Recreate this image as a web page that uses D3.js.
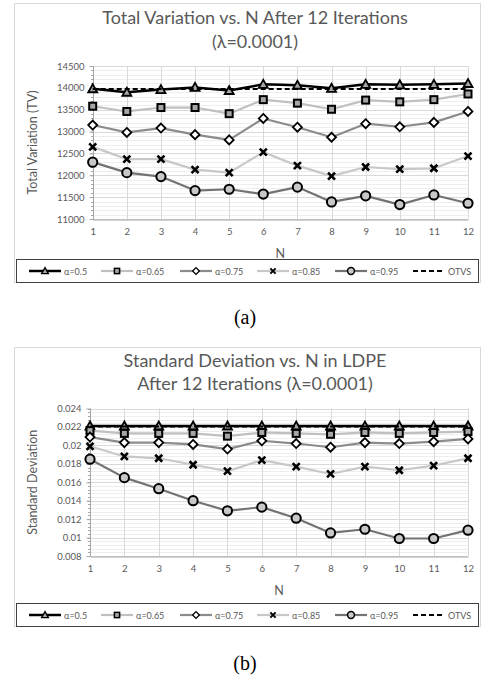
<!DOCTYPE html>
<html><head><meta charset="utf-8">
<script src="https://cdn.jsdelivr.net/npm/d3@7"></script>
<style>body{margin:0;background:#fff}svg{display:block}</style>
</head><body>
<svg id="c" width="481" height="679"></svg>
<script>
const nValues = [1,2,3,4,5,6,7,8,9,10,11,12];
const seriesNames = ["α=0.5","α=0.65","α=0.75","α=0.85","α=0.95","OTVS"];

// Panel (a): Total Variation
const tvA050 = [13980,13900,13960,14010,13940,14080,14060,13990,14080,14070,14080,14100];
const tvA065 = [13580,13460,13550,13550,13410,13730,13650,13510,13720,13680,13730,13860];
const tvA075 = [13150,12980,13080,12930,12810,13300,13100,12870,13180,13110,13210,13460];
const tvA085 = [12650,12370,12370,12130,12060,12530,12220,11980,12190,12140,12160,12440];
const tvA095 = [12300,12060,11970,11650,11680,11570,11730,11390,11530,11330,11550,11360];
const tvOTVS = [13975,13975,13975,13975,13975,13975,13975,13975,13975,13975,13975,13975];
const tvTicks = [11000,11500,12000,12500,13000,13500,14000,14500];

// Panel (b): Standard Deviation
const sdA050 = [0.0221,0.0221,0.0221,0.0221,0.0221,0.0221,0.0221,0.0221,0.0221,0.0221,0.0221,0.0221];
const sdA065 = [0.0216,0.0213,0.0213,0.0213,0.0210,0.0214,0.0213,0.0212,0.0214,0.0213,0.0214,0.0215];
const sdA075 = [0.0209,0.0203,0.0203,0.0201,0.0196,0.0205,0.0202,0.0198,0.0203,0.0202,0.0204,0.0207];
const sdA085 = [0.0199,0.0188,0.0186,0.0179,0.0172,0.0184,0.0177,0.0169,0.0177,0.0173,0.0178,0.0186];
const sdA095 = [0.0185,0.0165,0.0153,0.0140,0.0129,0.0133,0.0121,0.0105,0.0109,0.0099,0.0099,0.0108];
const sdOTVS = [0.02205,0.02205,0.02205,0.02205,0.02205,0.02205,0.02205,0.02205,0.02205,0.02205,0.02205,0.02205];
const sdTicks = [0.008,0.01,0.012,0.014,0.016,0.018,0.02,0.022,0.024];
const sdTickLabels = ["0.008","0.01","0.012","0.014","0.016","0.018","0.02","0.022","0.024"];

const FONT = "Lato, 'Open Sans', sans-serif";
const TXT = "#595959";
const svg = d3.select("#c");

const styles = [
  {color:"#000000", width:2.5, marker:"triangle", fill:"#a6a6a6"},
  {color:"#c0c0c0", width:2.2, marker:"square", fill:"#a6a6a6"},
  {color:"#8c8c8c", width:2.2, marker:"diamond", fill:"#ffffff"},
  {color:"#c8c8c8", width:2.2, marker:"x", fill:"none"},
  {color:"#737373", width:2.2, marker:"circle", fill:"#c8c8c8"},
  {color:"#000000", width:2, marker:null, dash:"5,3"}
];

function drawMarker(g, type, x, y, fill, s){
  s = s || 1;
  if(type==="triangle"){
    g.append("path").attr("d",`M${x},${y-4.5*s}L${x+4.5*s},${y+3.5*s}L${x-4.5*s},${y+3.5*s}Z`)
      .attr("fill",fill).attr("stroke","#000").attr("stroke-width",1.8*s).attr("stroke-linejoin","miter");
  } else if(type==="square"){
    g.append("rect").attr("x",x-3.5*s).attr("y",y-3.5*s).attr("width",7*s).attr("height",7*s)
      .attr("fill",fill).attr("stroke","#000").attr("stroke-width",2*s);
  } else if(type==="diamond"){
    g.append("path").attr("d",`M${x},${y-4.5*s}L${x+4.5*s},${y}L${x},${y+4.5*s}L${x-4.5*s},${y}Z`)
      .attr("fill",fill).attr("stroke","#000").attr("stroke-width",1.8*s);
  } else if(type==="x"){
    g.append("path").attr("d",`M${x-3.5*s},${y-3.5*s}L${x+3.5*s},${y+3.5*s}M${x+3.5*s},${y-3.5*s}L${x-3.5*s},${y+3.5*s}`)
      .attr("stroke","#000").attr("stroke-width",2.6*s);
  } else if(type==="circle"){
    g.append("circle").attr("cx",x).attr("cy",y).attr("r",4.6*s)
      .attr("fill",fill).attr("stroke","#000").attr("stroke-width",2*s);
  }
}

function panel(cfg){
  const g = svg.append("g");
  g.append("rect").attr("x",14.5).attr("y",cfg.frameTop+0.5).attr("width",466).attr("height",cfg.frameBottom-cfg.frameTop)
    .attr("fill","#fff").attr("stroke","#d9d9d9").attr("stroke-width",1);
  cfg.title.forEach((t,i)=>{
    g.append("text").attr("x",cfg.titleX).attr("y",cfg.titleY[i]).attr("text-anchor","middle")
      .attr("font-family",FONT).attr("font-size",cfg.titleSize).attr("fill",TXT).text(t);
  });
  const x = d3.scaleLinear().domain([1,12]).range([cfg.left,cfg.right]);
  const y = d3.scaleLinear().domain(cfg.domain).range([cfg.bottom,cfg.top]);
  const minor = d3.range(cfg.domain[0], cfg.domain[1]+cfg.minorStep/2, cfg.minorStep);
  g.append("g").selectAll("line").data(minor).join("line")
    .attr("x1",cfg.left).attr("x2",cfg.right)
    .attr("y1",d=>Math.round(y(d))+0.5).attr("y2",d=>Math.round(y(d))+0.5)
    .attr("stroke","#eeeeee").attr("stroke-width",1);
  g.append("g").selectAll("line").data(cfg.ticks).join("line")
    .attr("x1",cfg.left).attr("x2",cfg.right)
    .attr("y1",d=>Math.round(y(d))+0.5).attr("y2",d=>Math.round(y(d))+0.5)
    .attr("stroke","#d9d9d9").attr("stroke-width",1);
  g.append("g").selectAll("line").data(nValues.slice(1)).join("line")
    .attr("x1",d=>Math.round(x(d))+0.5).attr("x2",d=>Math.round(x(d))+0.5)
    .attr("y1",cfg.top).attr("y2",cfg.bottom)
    .attr("stroke","#d9d9d9").attr("stroke-width",1);
  const ya = d3.axisLeft(y).tickValues(cfg.ticks).tickFormat((d,i)=>cfg.tickLabels[i]).tickSize(4).tickPadding(5);
  const yg = g.append("g").attr("transform",`translate(${Math.round(cfg.left)+0.5},0)`).call(ya);
  yg.selectAll(".tick line").attr("stroke","#a6a6a6");
  yg.select(".domain").attr("stroke","#a6a6a6").attr("d",`M0,${cfg.top}V${cfg.bottom}`);
  yg.selectAll("text").attr("font-family",FONT).attr("font-size",9.5).attr("fill",TXT);
  yg.append("g").selectAll("line").data(minor).join("line")
    .attr("x1",-2.5).attr("x2",0).attr("y1",d=>Math.round(y(d))+0.5).attr("y2",d=>Math.round(y(d))+0.5)
    .attr("stroke","#a6a6a6");
  const xa = d3.axisBottom(x).tickValues(nValues).tickSize(0).tickPadding(9);
  const xg = g.append("g").attr("transform",`translate(0,${Math.round(cfg.bottom)+0.5})`).call(xa);
  xg.select(".domain").attr("stroke","#a6a6a6");
  xg.selectAll("text").attr("font-family",FONT).attr("font-size",9.5).attr("fill",TXT);
  g.append("text").attr("transform",`translate(${cfg.yTitleX},${(cfg.top+cfg.bottom)/2}) rotate(-90)`)
    .attr("text-anchor","middle").attr("dominant-baseline","central")
    .attr("font-family",FONT).attr("font-size",12.5).attr("fill",TXT).text(cfg.yTitle);
  g.append("text").attr("x",(cfg.left+cfg.right)/2).attr("y",cfg.xTitleY).attr("text-anchor","middle")
    .attr("dominant-baseline","central").attr("font-family",FONT).attr("font-size",12.5).attr("fill",TXT).text("N");
  const line = d3.line().x((d,i)=>x(nValues[i])).y(d=>y(d));
  cfg.series.forEach((vals,si)=>{
    const st = styles[si];
    const sg = g.append("g");
    sg.append("path").attr("d",line(vals)).attr("fill","none").attr("stroke",st.color)
      .attr("stroke-width",st.width).attr("stroke-dasharray",st.dash||null).attr("stroke-linejoin","round");
    if(st.marker) vals.forEach((v,i)=>drawMarker(sg, st.marker, x(nValues[i]), y(v), st.fill, 1));
  });
  const ly = cfg.frameBottom - 23;
  g.append("rect").attr("x",16.5).attr("y",ly+0.5).attr("width",462).attr("height",23)
    .attr("fill","#fff").attr("stroke","#404040").attr("stroke-width",1);
  const legX = [29,101,180,257,335,413];
  const cy = ly + 12;
  seriesNames.forEach((nm,i)=>{
    const st = styles[i];
    const lg = g.append("g");
    lg.append("line").attr("x1",legX[i]).attr("x2",legX[i]+32).attr("y1",cy).attr("y2",cy)
      .attr("stroke",st.color).attr("stroke-width",st.width).attr("stroke-dasharray",st.dash||null);
    if(st.marker) drawMarker(lg, st.marker, legX[i]+16, cy, st.fill, 0.75);
    lg.append("text").attr("x",legX[i]+35).attr("y",cy).attr("dominant-baseline","central")
      .attr("font-family",FONT).attr("font-size",9).attr("fill",TXT).text(nm);
  });
  svg.append("text").attr("x",245).attr("y",cfg.captionY).attr("text-anchor","middle")
    .attr("dominant-baseline","central").attr("font-family","'Liberation Serif', 'Times New Roman', serif")
    .attr("font-size",20).attr("fill","#000").text(cfg.caption);
}

panel({
  frameTop:3, frameBottom:282, left:92.7, right:468, top:66, bottom:219,
  domain:[11000,14500], ticks:tvTicks, tickLabels:tvTicks.map(String), minorStep:100,
  title:["Total Variation vs. N After 12 Iterations","(λ=0.0001)"], titleX:255, titleY:[24,48], titleSize:18,
  yTitle:"Total Variation (TV)", yTitleX:32, xTitleY:253,
  series:[tvA050,tvA065,tvA075,tvA085,tvA095,tvOTVS], caption:"(a)", captionY:317
});
panel({
  frameTop:347, frameBottom:626, left:90, right:468, top:408.5, bottom:556,
  domain:[0.008,0.024], ticks:sdTicks, tickLabels:sdTickLabels, minorStep:0.0004,
  title:["Standard Deviation vs. N in LDPE","After 12 Iterations (λ=0.0001)"], titleX:255, titleY:[367,390], titleSize:18,
  yTitle:"Standard Deviation", yTitleX:32, xTitleY:590,
  series:[sdA050,sdA065,sdA075,sdA085,sdA095,sdOTVS], caption:"(b)", captionY:663
});
</script>
</body></html>
